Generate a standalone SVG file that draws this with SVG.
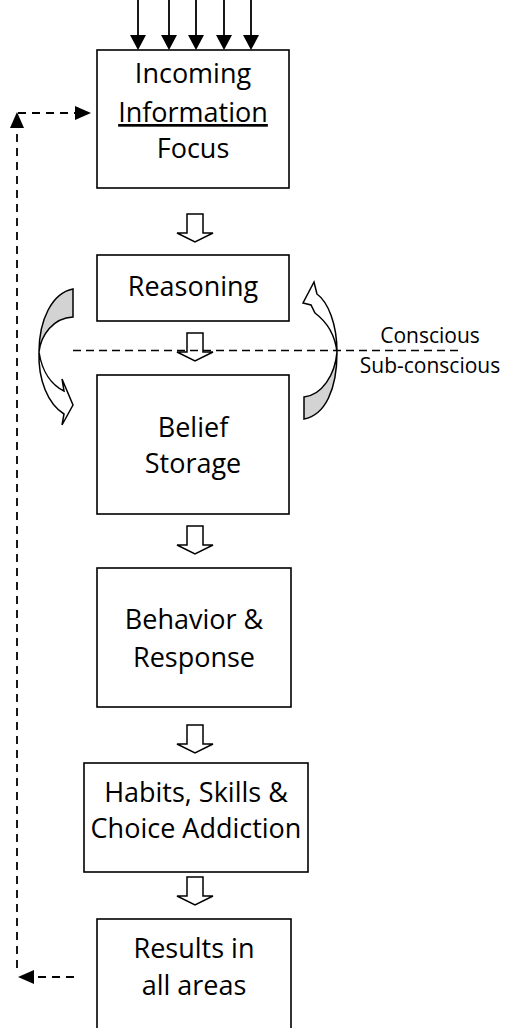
<svg xmlns="http://www.w3.org/2000/svg" width="506" height="1028" viewBox="0 0 506 1028">
<style>
.box{fill:#fff;stroke:#000;stroke-width:1.6}
.t{font-family:"Open Sans","Liberation Sans",sans-serif;font-size:27px;fill:#000;text-anchor:middle}
.s{font-family:"Open Sans","Liberation Sans",sans-serif;font-size:21px;fill:#000;text-anchor:middle}
.blk{fill:#fff;stroke:#000;stroke-width:1.5;stroke-linejoin:miter}
.dash{fill:none;stroke:#000;stroke-width:1.6;stroke-dasharray:8 5}
.fb{fill:none;stroke:#000;stroke-width:1.8;stroke-dasharray:8 6}
.solid{fill:none;stroke:#000;stroke-width:1.8}
.curv{stroke:#000;stroke-width:1.5;stroke-linejoin:miter}
</style>
<defs>
<path id="blk" d="M-8,0 H8 V19 H18 L0,28 L-18,19 H-8 Z"/>
</defs>
<rect width="506" height="1028" fill="#fff"/>

<g id="connectors">
  <!-- incoming arrows -->
  <g>
    <line class="solid" x1="138" y1="0" x2="138" y2="38"/>
    <line class="solid" x1="169" y1="0" x2="169" y2="38"/>
    <line class="solid" x1="196" y1="0" x2="196" y2="38"/>
    <line class="solid" x1="224" y1="0" x2="224" y2="38"/>
    <line class="solid" x1="251" y1="0" x2="251" y2="38"/>
    <polygon points="130,35 146,35 138,50"/>
    <polygon points="161,35 177,35 169,50"/>
    <polygon points="188,35 204,35 196,50"/>
    <polygon points="216,35 232,35 224,50"/>
    <polygon points="243,35 259,35 251,50"/>
  </g>
  <!-- block arrows -->
  <use href="#blk" class="blk" x="195" y="214"/>
  <use href="#blk" class="blk" x="195" y="333"/>
  <use href="#blk" class="blk" x="195" y="526"/>
  <use href="#blk" class="blk" x="195" y="725"/>
  <use href="#blk" class="blk" x="195" y="877"/>
  <!-- feedback loop -->
  <line class="fb" x1="74" y1="977" x2="32" y2="977"/>
  <polygon points="18,977 34,970 34,984"/>
  <line class="fb" x1="17" y1="968" x2="17" y2="126"/>
  <polygon points="17,112 10,128 24,128"/>
  <line class="fb" x1="18" y1="113" x2="77" y2="113"/>
  <polygon points="91,113 75,106 75,120"/>
  <!-- curved arrows -->
  <g id="curved-left">
    <path class="curv" fill="#d3d3d3" d="M73,289 C52,293 39,320 39,352 C41,335 53,318 73,317 Z"/>
    <path class="curv" fill="#fff" d="M39,352 C38,380 48,404 64,414 L62,425 L73,405 L62,379 L64,391 C52,385 42,372 39,352 Z"/>
  </g>
  <g id="curved-right">
    <path class="curv" fill="#d3d3d3" d="M304,419 L304,397 C322,395 335,375 337,352 C337,390 325,415 304,419 Z"/>
    <path class="curv" fill="#fff" d="M337,352 C337,324 328,302 317,294 L314,282 L303,303 L311,305 L315,313 C327,322 335,335 337,352 Z"/>
  </g>
  <!-- conscious divider -->
  <line class="dash" x1="73" y1="350.5" x2="463" y2="350.5"/>
</g>

<g id="labels">
  <text class="s" x="430" y="343">Conscious</text>
  <text class="s" x="430" y="373">Sub-conscious</text>
</g>

<g id="node-incoming">
  <rect class="box" x="97" y="50" width="192" height="138"/>
  <text class="t" x="193" y="83">Incoming</text>
  <text class="t" x="193" y="122" text-decoration="underline">Information</text>
  <text class="t" x="193" y="158">Focus</text>
</g>
<g id="node-reasoning">
  <rect class="box" x="97" y="255" width="192" height="66"/>
  <text class="t" x="193" y="296">Reasoning</text>
</g>
<g id="node-belief">
  <rect class="box" x="97" y="375" width="192" height="139"/>
  <text class="t" x="193" y="437">Belief</text>
  <text class="t" x="193" y="473">Storage</text>
</g>
<g id="node-behavior">
  <rect class="box" x="97" y="568" width="194" height="139"/>
  <text class="t" x="194" y="629">Behavior &amp;</text>
  <text class="t" x="194" y="667">Response</text>
</g>
<g id="node-habits">
  <rect class="box" x="84" y="763" width="224" height="109"/>
  <text class="t" x="196" y="802">Habits, Skills &amp;</text>
  <text class="t" x="196" y="838">Choice Addiction</text>
</g>
<g id="node-results">
  <rect class="box" x="97" y="919" width="194" height="130"/>
  <text class="t" x="194" y="958">Results in</text>
  <text class="t" x="194" y="995">all areas</text>
</g>
</svg>
